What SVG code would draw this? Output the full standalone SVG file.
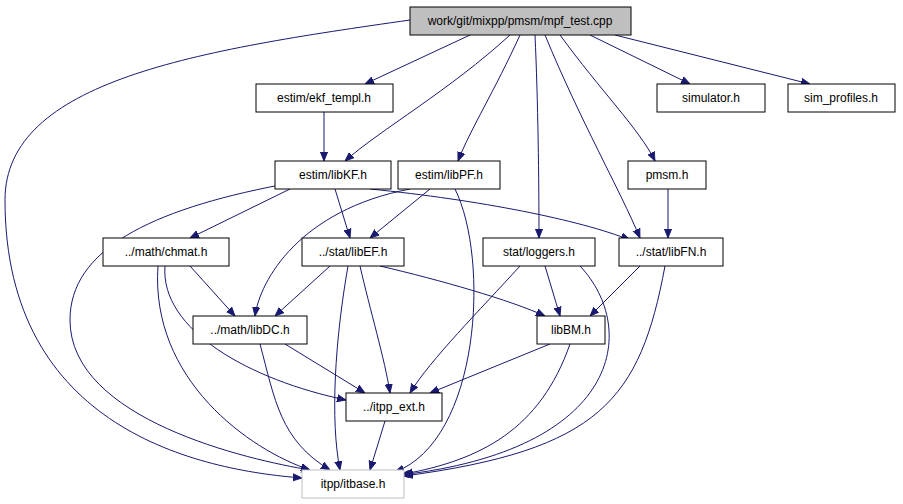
<svg xmlns="http://www.w3.org/2000/svg" width="903" height="504" viewBox="0 0 903 504">
<style>
.n rect{fill:#fff;stroke:#000;stroke-width:1}
.n text{font-family:"Liberation Sans",Arial,sans-serif;font-size:12px;text-anchor:middle}
#e path{fill:none;stroke:#191970;stroke-width:1}
</style>
<defs><marker id="a" viewBox="0 0 10 10" refX="10" refY="5" markerWidth="9" markerHeight="9" orient="auto" markerUnits="userSpaceOnUse"><path d="M0,1L10,5L0,9z" fill="#191970" stroke="#191970"/></marker></defs>
<rect width="903" height="504" fill="#fff"/>
<g id="e" marker-end="url(#a)">
<path d="M410,20 C200,50 5,80 5,200 C5,430 200,470 302,478"/>
<path d="M470,35 L365,84"/>
<path d="M510,35 C450,90 380,130 345,161"/>
<path d="M520,35 C495,90 470,130 458,161"/>
<path d="M535,35 C538,100 539,180 539,238"/>
<path d="M545,35 C580,120 620,190 640,238"/>
<path d="M560,35 C600,90 640,130 655,161"/>
<path d="M590,35 L690,84"/>
<path d="M615,35 L810,84"/>
<path d="M324,112 L324,161"/>
<path d="M290,189 L190,238"/>
<path d="M335,189 L350,238"/>
<path d="M370,189 C480,200 580,220 630,240"/>
<path d="M280,185 C150,210 70,250 70,320 C70,420 250,460 310,470"/>
<path d="M430,189 L370,238"/>
<path d="M410,189 C300,210 260,280 255,316"/>
<path d="M455,189 C490,260 480,440 395,472"/>
<path d="M668,189 L668,238"/>
<path d="M190,266 L235,316"/>
<path d="M165,266 C160,330 250,380 346,400"/>
<path d="M158,266 C150,380 250,450 310,470"/>
<path d="M330,266 L275,316"/>
<path d="M360,266 C370,310 385,360 390,393"/>
<path d="M380,266 C440,280 510,300 545,316"/>
<path d="M348,266 C335,340 330,420 340,470"/>
<path d="M545,266 L560,316"/>
<path d="M520,266 C480,310 430,360 410,393"/>
<path d="M580,266 C640,330 620,450 400,475"/>
<path d="M640,266 L590,316"/>
<path d="M665,266 C640,400 600,450 404,476"/>
<path d="M285,344 L365,393"/>
<path d="M260,344 C275,400 280,440 330,470"/>
<path d="M550,344 L430,393"/>
<path d="M570,344 C540,430 480,460 404,474"/>
<path d="M385,421 L370,470"/>
</g>
<g id="mpf" class="n"><rect x="410" y="7" width="221" height="28" style="fill:#bfbfbf"/><text x="520" y="25">work/git/mixpp/pmsm/mpf_test.cpp</text></g>
<g id="ekf" class="n"><rect x="256" y="84" width="137" height="28"/><text x="324" y="102">estim/ekf_templ.h</text></g>
<g id="sim" class="n"><rect x="657" y="84" width="108" height="28"/><text x="711" y="102">simulator.h</text></g>
<g id="simp" class="n"><rect x="788" y="84" width="107" height="28"/><text x="841" y="102">sim_profiles.h</text></g>
<g id="kf" class="n"><rect x="275" y="161" width="116" height="28"/><text x="333" y="179">estim/libKF.h</text></g>
<g id="pf" class="n"><rect x="398" y="161" width="102" height="28"/><text x="449" y="179">estim/libPF.h</text></g>
<g id="pmsm" class="n"><rect x="628" y="161" width="78" height="28"/><text x="667" y="179">pmsm.h</text></g>
<g id="chmat" class="n"><rect x="103" y="238" width="126" height="28"/><text x="166" y="256">../math/chmat.h</text></g>
<g id="ef" class="n"><rect x="302" y="238" width="102" height="28"/><text x="353" y="256">../stat/libEF.h</text></g>
<g id="log" class="n"><rect x="483" y="238" width="112" height="28"/><text x="539" y="256">stat/loggers.h</text></g>
<g id="fn" class="n"><rect x="619" y="238" width="104" height="28"/><text x="671" y="256">../stat/libFN.h</text></g>
<g id="dc" class="n"><rect x="193" y="316" width="114" height="28"/><text x="250" y="334">../math/libDC.h</text></g>
<g id="bm" class="n"><rect x="537" y="316" width="68" height="28"/><text x="571" y="334">libBM.h</text></g>
<g id="ext" class="n"><rect x="346" y="393" width="96" height="28"/><text x="394" y="411">../itpp_ext.h</text></g>
<g id="itb" class="n"><rect x="302" y="470" width="102" height="28" style="stroke:#bfbfbf"/><text x="353" y="488">itpp/itbase.h</text></g>
</svg>
